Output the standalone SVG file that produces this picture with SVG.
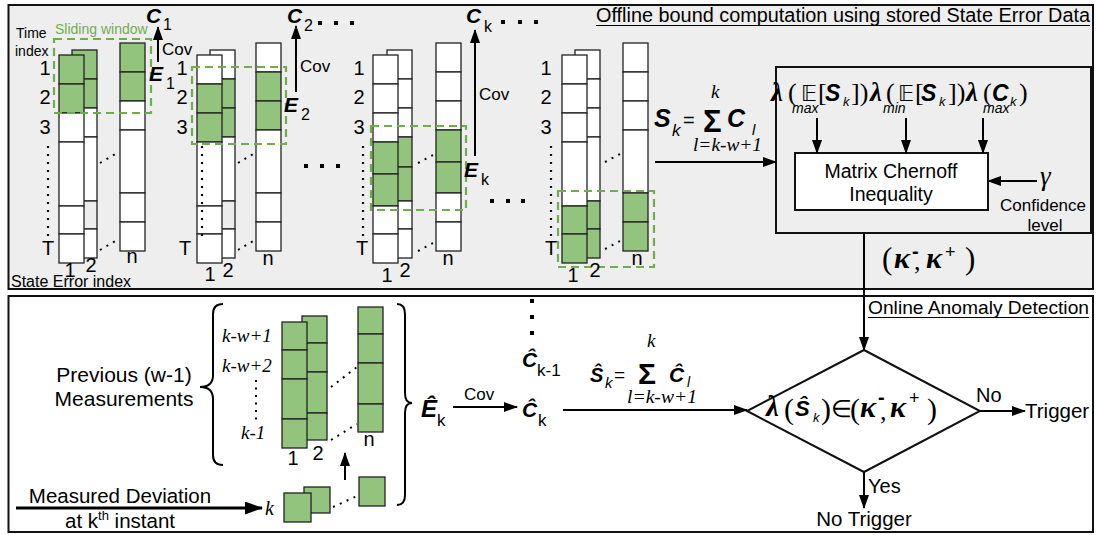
<svg xmlns="http://www.w3.org/2000/svg" width="1096" height="535" viewBox="0 0 1096 535">
<style>
.cell{stroke:#222;stroke-width:1.3}
.w{fill:#fff}
.g{fill:#93c47d}
.gy{fill:#ececec}
.win{fill:none;stroke:#6fae4f;stroke-width:2.2;stroke-dasharray:8 5}
.s{font-family:"Liberation Sans",Arial,sans-serif}
.si{font-family:"Liberation Sans",Arial,sans-serif;font-style:italic}
.bi{font-family:"Liberation Sans",Arial,sans-serif;font-weight:bold;font-style:italic}
.m{font-family:"Liberation Serif","Times New Roman",serif}
.mi{font-family:"Liberation Serif","Times New Roman",serif;font-style:italic}
.mbi{font-family:"Liberation Serif","Times New Roman",serif;font-weight:bold;font-style:italic}
.bb{font-family:"DejaVu Sans",sans-serif}
.ln{stroke:#000;stroke-width:2;fill:none}
.vd{stroke:#000;stroke-width:2.2;stroke-dasharray:2 6;fill:none}
.dd{stroke:#000;stroke-width:2;stroke-dasharray:2 5.5;fill:none}
.sq{fill:#000}
.lab{font-family:"Liberation Sans",Arial,sans-serif;font-size:20px;text-anchor:middle}
</style>
<defs>
<marker id="ah" markerUnits="userSpaceOnUse" markerWidth="14" markerHeight="10" refX="13" refY="5" orient="auto"><path d="M0,0 L14,5 L0,10 z" fill="#000"/></marker>
<marker id="ahb" markerUnits="userSpaceOnUse" markerWidth="18" markerHeight="13" refX="17" refY="6.5" orient="auto"><path d="M0,0 L18,6.5 L0,13 z" fill="#000"/></marker>
</defs>

<!-- panels -->
<g id="panel-offline">
<rect x="8.5" y="5" width="1084.5" height="284" fill="#eeeeee" stroke="#111" stroke-width="2"/>
<text class="s" x="596" y="22" font-size="20" textLength="494" lengthAdjust="spacingAndGlyphs">Offline bound computation using stored State Error Data</text>
<line x1="596" y1="25.5" x2="1090" y2="25.5" stroke="#000" stroke-width="1.2"/>
<text class="s" x="16" y="38" font-size="14">Time</text>
<text class="s" x="15" y="56" font-size="14">index</text>
<text class="s" x="55" y="34" font-size="14" fill="#6fae4f">Sliding window</text>
<text class="s" x="11" y="287" font-size="16">State Error index</text>
</g>
<g id="panel-online">
<rect x="8.5" y="296" width="1084.5" height="236" fill="#fff" stroke="#111" stroke-width="2"/>
<text class="s" x="868" y="314" font-size="19" textLength="221" lengthAdjust="spacingAndGlyphs">Online Anomaly Detection</text>
<line x1="868" y1="317.5" x2="1089" y2="317.5" stroke="#000" stroke-width="1.2"/>
</g>

<!-- group 1 -->
<g id="window-1">
<rect class="cell g" x="72" y="50" width="25" height="29"/><rect class="cell g" x="72" y="79" width="25" height="29"/><rect class="cell w" x="72" y="108" width="25" height="29"/><rect class="cell w" x="72" y="137" width="25" height="64"/><rect class="cell gy" x="72" y="201" width="25" height="28"/><rect class="cell w" x="72" y="229" width="25" height="29"/>
<rect class="cell g" x="59" y="55" width="25" height="29"/><rect class="cell g" x="59" y="84" width="25" height="29"/><rect class="cell w" x="59" y="113" width="25" height="29"/><rect class="cell w" x="59" y="142" width="25" height="64"/><rect class="cell w" x="59" y="206" width="25" height="28"/><rect class="cell w" x="59" y="234" width="25" height="29"/>
<rect class="cell g" x="120" y="43" width="25" height="29"/><rect class="cell g" x="120" y="72" width="25" height="29"/><rect class="cell w" x="120" y="101" width="25" height="29"/><rect class="cell w" x="120" y="130" width="25" height="63"/><rect class="cell w" x="120" y="193" width="25" height="29"/><rect class="cell w" x="120" y="222" width="25" height="29"/>
<rect class="win" x="54" y="39" width="97" height="74"/>
<text class="lab" x="45" y="75">1</text><text class="lab" x="45" y="104">2</text><text class="lab" x="45" y="134">3</text>
<line class="vd" x1="48" y1="146" x2="48" y2="236"/>
<text class="lab" x="48" y="255">T</text>
<line class="dd" x1="100" y1="163" x2="119" y2="152"/><line class="dd" x1="100" y1="250" x2="119" y2="239"/>
<text class="lab" x="70" y="277">1</text><text class="lab" x="91" y="272">2</text><text class="lab" x="132" y="263">n</text>
<text class="bi" font-size="21" x="146" y="23">C</text><text class="s" font-size="16" x="163" y="30">1</text>
<text class="s" font-size="17" x="162" y="55">Cov</text>
<text class="bi" font-size="21" x="149" y="81">E</text><text class="s" font-size="16" x="166" y="89">1</text>
</g>

<!-- group 2 -->
<g id="window-2">
<rect class="cell w" x="210" y="50" width="25" height="29"/><rect class="cell g" x="210" y="79" width="25" height="29"/><rect class="cell g" x="210" y="108" width="25" height="29"/><rect class="cell w" x="210" y="137" width="25" height="64"/><rect class="cell gy" x="210" y="201" width="25" height="28"/><rect class="cell w" x="210" y="229" width="25" height="29"/>
<rect class="cell w" x="197" y="55" width="25" height="29"/><rect class="cell g" x="197" y="84" width="25" height="29"/><rect class="cell g" x="197" y="113" width="25" height="29"/><rect class="cell w" x="197" y="142" width="25" height="64"/><rect class="cell w" x="197" y="206" width="25" height="28"/><rect class="cell w" x="197" y="234" width="25" height="29"/>
<rect class="cell w" x="256" y="43" width="25" height="29"/><rect class="cell g" x="256" y="72" width="25" height="29"/><rect class="cell g" x="256" y="101" width="25" height="29"/><rect class="cell w" x="256" y="130" width="25" height="63"/><rect class="cell w" x="256" y="193" width="25" height="29"/><rect class="cell w" x="256" y="222" width="25" height="29"/>
<rect class="win" x="192" y="67" width="94" height="77"/>
<text class="lab" x="182" y="75">1</text><text class="lab" x="182" y="104">2</text><text class="lab" x="182" y="134">3</text>
<line class="vd" x1="202" y1="146" x2="202" y2="236"/>
<text class="lab" x="185" y="255">T</text>
<line class="dd" x1="238" y1="163" x2="255" y2="153"/><line class="dd" x1="238" y1="250" x2="255" y2="240"/>
<text class="lab" x="210" y="281">1</text><text class="lab" x="228" y="277">2</text><text class="lab" x="268" y="265">n</text>
<text class="bi" font-size="21" x="287" y="23">C</text><text class="s" font-size="16" x="304" y="31">2</text>
<rect class="sq" x="318" y="21" width="4" height="4"/><rect class="sq" x="334" y="21" width="4" height="4"/><rect class="sq" x="350" y="21" width="4" height="4"/>
<text class="s" font-size="17" x="300" y="72">Cov</text>
<text class="bi" font-size="21" x="284" y="112">E</text><text class="s" font-size="16" x="301" y="120">2</text>
<rect class="sq" x="304" y="164" width="4" height="4"/><rect class="sq" x="320" y="164" width="4" height="4"/><rect class="sq" x="336" y="164" width="4" height="4"/>
</g>

<!-- group 3 -->
<g id="window-k">
<rect class="cell w" x="387" y="50" width="25" height="29"/><rect class="cell w" x="387" y="79" width="25" height="29"/><rect class="cell w" x="387" y="108" width="25" height="29"/><rect class="cell g" x="387" y="137" width="25" height="30"/><rect class="cell g" x="387" y="167" width="25" height="34"/><rect class="cell w" x="387" y="201" width="25" height="28"/><rect class="cell w" x="387" y="229" width="25" height="29"/>
<rect class="cell w" x="373" y="55" width="25" height="29"/><rect class="cell w" x="373" y="84" width="25" height="29"/><rect class="cell w" x="373" y="113" width="25" height="29"/><rect class="cell g" x="373" y="142" width="25" height="32"/><rect class="cell g" x="373" y="174" width="25" height="32"/><rect class="cell w" x="373" y="206" width="25" height="28"/><rect class="cell w" x="373" y="234" width="25" height="29"/>
<rect class="cell w" x="436" y="43" width="25" height="29"/><rect class="cell w" x="436" y="72" width="25" height="29"/><rect class="cell w" x="436" y="101" width="25" height="29"/><rect class="cell g" x="436" y="130" width="25" height="32"/><rect class="cell g" x="436" y="162" width="25" height="31"/><rect class="cell w" x="436" y="193" width="25" height="29"/><rect class="cell w" x="436" y="222" width="25" height="29"/>
<rect class="win" x="371" y="126" width="95" height="84"/>
<text class="lab" x="359" y="75">1</text><text class="lab" x="359" y="104">2</text><text class="lab" x="359" y="134">3</text>
<line class="vd" x1="363" y1="146" x2="363" y2="236"/>
<text class="lab" x="362" y="255">T</text>
<line class="dd" x1="418" y1="163" x2="435" y2="154"/><line class="dd" x1="418" y1="251" x2="435" y2="242"/>
<text class="lab" x="387" y="282">1</text><text class="lab" x="405" y="277">2</text><text class="lab" x="448" y="265">n</text>
<text class="bi" font-size="21" x="466" y="23">C</text><text class="s" font-size="16" x="484" y="32">k</text>
<rect class="sq" x="501" y="20" width="4" height="4"/><rect class="sq" x="518" y="20" width="4" height="4"/><rect class="sq" x="534" y="20" width="4" height="4"/>
<text class="s" font-size="17" x="479" y="100">Cov</text>
<text class="bi" font-size="21" x="464" y="177">E</text><text class="s" font-size="16" x="481" y="185">k</text>
<rect class="sq" x="490" y="199" width="4" height="4"/><rect class="sq" x="506" y="199" width="4" height="4"/><rect class="sq" x="521" y="199" width="4" height="4"/>
</g>

<!-- group 4 -->
<g id="window-T">
<rect class="cell w" x="575" y="50" width="25" height="29"/><rect class="cell w" x="575" y="79" width="25" height="29"/><rect class="cell w" x="575" y="108" width="25" height="29"/><rect class="cell w" x="575" y="137" width="25" height="64"/><rect class="cell g" x="575" y="201" width="25" height="28"/><rect class="cell g" x="575" y="229" width="25" height="29"/>
<rect class="cell w" x="562" y="55" width="25" height="29"/><rect class="cell w" x="562" y="84" width="25" height="29"/><rect class="cell w" x="562" y="113" width="25" height="29"/><rect class="cell w" x="562" y="142" width="25" height="64"/><rect class="cell g" x="562" y="206" width="25" height="28"/><rect class="cell g" x="562" y="234" width="25" height="29"/>
<rect class="cell w" x="623" y="43" width="25" height="29"/><rect class="cell w" x="623" y="72" width="25" height="29"/><rect class="cell w" x="623" y="101" width="25" height="29"/><rect class="cell w" x="623" y="130" width="25" height="63"/><rect class="cell g" x="623" y="193" width="25" height="29"/><rect class="cell g" x="623" y="222" width="25" height="29"/>
<rect class="win" x="558" y="191" width="96" height="76"/>
<text class="lab" x="546" y="75">1</text><text class="lab" x="546" y="104">2</text><text class="lab" x="546" y="134">3</text>
<line class="vd" x1="551" y1="146" x2="551" y2="236"/>
<text class="lab" x="551" y="255">T</text>
<line class="dd" x1="605" y1="162" x2="622" y2="153"/><line class="dd" x1="605" y1="249" x2="622" y2="240"/>
<text class="lab" x="573" y="282">1</text><text class="lab" x="595" y="277">2</text><text class="lab" x="637" y="265">n</text>
</g>

<!-- S_k formula -->
<g id="sum-offline">
<text class="bi" font-size="25" x="654" y="127">S</text><text class="si" font-size="17" x="672" y="136">k</text>
<text class="s" font-size="20" x="683" y="127">=</text>
<text class="s" font-weight="bold" font-size="31" x="703" y="132">Σ</text>
<text class="mi" font-size="19" x="711" y="98">k</text>
<text class="bi" font-size="25" x="727" y="127">C</text><text class="si" font-size="15" x="752" y="135">l</text>
<text class="mi" font-size="19" x="693" y="151" textLength="69" lengthAdjust="spacingAndGlyphs">l=k-w+1</text>
</g>

<!-- Chernoff -->
<g id="chernoff-block">
<rect x="776" y="67" width="315" height="166" fill="#eeeeee" stroke="#111" stroke-width="2"/>
<text class="mbi" font-size="27" x="771" y="101">λ</text><text class="m" font-size="26" x="788" y="101">(</text><text class="bb" font-size="22" x="801" y="101">𝔼</text><text class="m" font-size="26" x="818" y="101">[</text><text class="bi" font-size="23" x="825" y="101">S</text><text class="si" font-size="13" x="843" y="106">k</text><text class="m" font-size="26" x="851" y="101">])</text>
<text class="si" font-size="14" x="792" y="113">max</text>
<text class="mbi" font-size="27" x="870" y="101">λ</text><text class="m" font-size="26" x="886" y="101">(</text><text class="bb" font-size="22" x="898" y="101">𝔼</text><text class="m" font-size="26" x="915" y="101">[</text><text class="bi" font-size="23" x="921" y="101">S</text><text class="si" font-size="13" x="939" y="106">k</text><text class="m" font-size="26" x="948" y="101">])</text>
<text class="si" font-size="14" x="883" y="113">min</text>
<text class="mbi" font-size="27" x="966" y="101">λ</text><text class="m" font-size="26" x="983" y="101">(</text><text class="bi" font-size="23" x="992" y="101">C</text><text class="si" font-size="13" x="1010" y="106">k</text><text class="m" font-size="26" x="1019" y="101">)</text>
<text class="si" font-size="14" x="983" y="113">max</text>
<rect x="795" y="153" width="193" height="57" fill="#fff" stroke="#111" stroke-width="2"/>
<text class="s" font-size="19.5" text-anchor="middle" x="891" y="178">Matrix Chernoff</text>
<text class="s" font-size="19.5" text-anchor="middle" x="891" y="201">Inequality</text>
<text class="mi" font-size="27" x="1040" y="185">γ</text>
<text class="s" font-size="17" text-anchor="middle" x="1043" y="211">Confidence</text>
<text class="s" font-size="17" text-anchor="middle" x="1045" y="231">level</text>
</g>
<g id="kappa-bounds">
<text class="m" font-size="31" x="882" y="269">(</text><text class="mbi" font-size="30" x="894" y="268">κ</text><text class="s" font-weight="bold" font-size="20" x="912" y="258">-</text><text class="m" font-size="26" x="914" y="270">,</text><text class="mbi" font-size="30" x="926" y="268">κ</text><text class="s" font-size="18" x="945" y="258">+</text><text class="m" font-size="31" x="965" y="269">)</text>
</g>

<!-- online: previous measurements -->
<g id="previous-measurements">
<text class="s" font-size="21" text-anchor="middle" x="124" y="382">Previous (w-1)</text>
<text class="s" font-size="21" text-anchor="middle" x="124" y="406">Measurements</text>
<path class="ln" d="M223,304 q-10,0 -10,10 v61 q0,12 -13,12 q13,0 13,12 v56 q0,10 10,10"/>
<text class="mi" font-size="19" x="222" y="342">k-w+1</text>
<text class="mi" font-size="19" x="222" y="372">k-w+2</text>
<line class="dd" x1="256" y1="380" x2="256" y2="422"/>
<text class="mi" font-size="19" x="241" y="439">k-1</text>
<rect class="cell g" x="302" y="316" width="25" height="27"/><rect class="cell g" x="302" y="343" width="25" height="29"/><rect class="cell g" x="302" y="372" width="25" height="41"/><rect class="cell g" x="302" y="413" width="25" height="27"/>
<rect class="cell g" x="282" y="322" width="25" height="28"/><rect class="cell g" x="282" y="350" width="25" height="29"/><rect class="cell g" x="282" y="379" width="25" height="40"/><rect class="cell g" x="282" y="419" width="25" height="29"/>
<rect class="cell g" x="358" y="307" width="25" height="27"/><rect class="cell g" x="358" y="334" width="25" height="29"/><rect class="cell g" x="358" y="363" width="25" height="41"/><rect class="cell g" x="358" y="404" width="25" height="28"/>
<line class="dd" x1="331" y1="387" x2="357" y2="367"/><line class="dd" x1="331" y1="440" x2="357" y2="424"/>
<text class="lab" x="293" y="465">1</text><text class="lab" x="318" y="460">2</text><text class="lab" x="369" y="446">n</text>
<path class="ln" d="M397,304 q8,0 8,10 v79 q0,10 7,10 q-7,0 -7,10 v82 q0,10 -8,10"/>
</g>
<g id="current-measurement">
<text class="s" font-size="20.5" text-anchor="middle" x="120" y="503">Measured Deviation</text>
<text class="s" font-size="20.5" x="65" y="528">at k<tspan font-size="13" dy="-8">th</tspan><tspan dy="8"> instant</tspan></text>
<text class="mi" font-size="20" x="265" y="515">k</text>
<rect class="cell g" x="304" y="487" width="26" height="26"/>
<rect class="cell g" x="284" y="493" width="27" height="29"/>
<rect class="cell g" x="359" y="477" width="26" height="29"/>
<line class="dd" x1="333" y1="507" x2="357" y2="496"/>
</g>

<g id="E-hat">
<text class="bi" font-size="24" x="421" y="417">Ê</text><text class="s" font-size="17" x="437" y="426">k</text>
<text class="s" font-size="17" x="464" y="400">Cov</text>
</g>
<g id="C-hat">
<rect class="sq" x="530" y="299" width="4" height="4"/><rect class="sq" x="530" y="315" width="4" height="4"/><rect class="sq" x="530" y="331" width="4" height="4"/>
<text class="bi" font-size="21" x="522" y="367">Ĉ</text><text class="s" font-size="17" x="537" y="376">k-1</text>
<text class="bi" font-size="21" x="522" y="417">Ĉ</text><text class="s" font-size="17" x="538" y="426">k</text>
</g>
<g id="sum-online">
<text class="bi" font-size="20" x="590" y="382">Ŝ</text><text class="si" font-size="15" x="605" y="388">k</text>
<text class="s" font-size="19" x="614" y="381">=</text>
<text class="s" font-weight="bold" font-size="30" x="638" y="384">Σ</text>
<text class="mi" font-size="19" x="647" y="347">k</text>
<text class="bi" font-size="21" x="669" y="382">Ĉ</text><text class="si" font-size="14" x="687" y="387">l</text>
<text class="mi" font-size="19" x="627" y="403" textLength="70" lengthAdjust="spacingAndGlyphs">l=k-w+1</text>
</g>

<g id="decision">
<polygon points="864,350 980,411 864,472 747,411" fill="#fff" stroke="#111" stroke-width="2"/>
<text class="mbi" font-size="29" x="766" y="416">λ</text><text class="m" font-size="30" x="784" y="419">(</text><text class="bi" font-size="22" x="795" y="416">Ŝ</text><text class="si" font-size="13" x="813" y="422">k</text><text class="m" font-size="30" x="821" y="419">)</text><text class="m" font-size="24" x="831" y="417">∈</text><text class="m" font-size="30" x="850" y="419">(</text><text class="mbi" font-size="30" x="860" y="417">κ</text><text class="s" font-weight="bold" font-size="20" x="878" y="404">-</text><text class="m" font-size="26" x="880" y="420">,</text><text class="mbi" font-size="30" x="890" y="417">κ</text><text class="s" font-size="18" x="909" y="404">+</text><text class="m" font-size="30" x="927" y="419">)</text>
</g>
<g id="outcomes">
<text class="s" font-size="20" x="976" y="402">No</text>
<text class="s" font-size="20.5" x="1025" y="418">Trigger</text>
<text class="s" font-size="20" x="868" y="493">Yes</text>
<text class="s" font-size="20.5" text-anchor="middle" x="864" y="526">No Trigger</text>
</g>

<g id="connectors">
<line class="ln" x1="158" y1="62" x2="158" y2="27" marker-end="url(#ah)"/>
<line class="ln" x1="296" y1="92" x2="296" y2="26" marker-end="url(#ah)"/>
<line class="ln" x1="475" y1="156" x2="475" y2="30" marker-end="url(#ah)"/>
<line class="ln" x1="655" y1="162" x2="776" y2="162" marker-end="url(#ah)"/>
<line class="ln" x1="817" y1="118" x2="817" y2="153" marker-end="url(#ah)"/>
<line class="ln" x1="906" y1="118" x2="906" y2="153" marker-end="url(#ah)"/>
<line class="ln" x1="983" y1="118" x2="983" y2="153" marker-end="url(#ah)"/>
<line class="ln" x1="1037" y1="181" x2="988" y2="181" marker-end="url(#ah)"/>
<line class="ln" x1="864" y1="233" x2="864" y2="350" marker-end="url(#ah)"/>
<line class="ln" x1="453" y1="407" x2="517" y2="407" marker-end="url(#ah)"/>
<line class="ln" x1="563" y1="410" x2="747" y2="410" marker-end="url(#ah)"/>
<line class="ln" x1="980" y1="411" x2="1025" y2="411" marker-end="url(#ah)"/>
<line class="ln" x1="864" y1="472" x2="864" y2="508" marker-end="url(#ah)"/>
<line class="ln" x1="345" y1="480" x2="345" y2="453" marker-end="url(#ah)"/>
<line x1="16" y1="508" x2="262" y2="508" stroke="#000" stroke-width="3" marker-end="url(#ahb)"/>
</g>
</svg>
